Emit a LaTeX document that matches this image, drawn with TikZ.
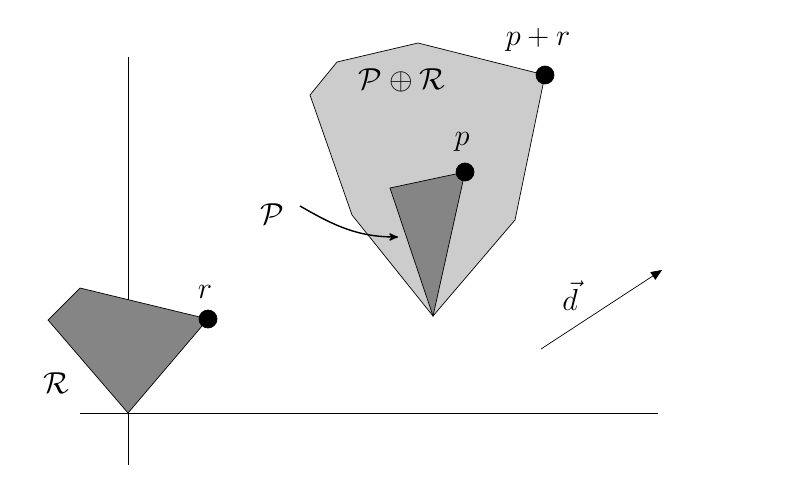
\documentclass[tikz,border=0pt]{standalone}
\usepackage{amsmath, amssymb}
\usetikzlibrary{arrows,calc,positioning}
\begin{document}
\begin{tikzpicture}[
  x=0.02cm, y=-0.02cm,
  > = latex,
  dot/.style = {draw,fill,circle,inner sep=0pt,minimum size=0.36cm},
  lbl/.style = {font=\LARGE}
  ]
	\useasboundingbox (0,0) rectangle (800,500);
	\draw (128,57) -- (128,465);
	\draw (80,413) -- (658,413);

	\coordinate (o) at (128,413);
	\coordinate (r) at (208,319);
	\coordinate (q) at (433,316);
	\coordinate (p) at (465,172);
	\coordinate (pr) at (545,75);

	\filldraw[fill=black!48] (o) -- (48,320) -- (80,288) -- (r) -- cycle;
	\filldraw[fill=black!20] (q) -- (352,215) -- (310,95) -- (337,62) -- (418,43) -- (pr) -- (515,220) -- cycle;
	\filldraw[fill=black!48] (q) -- (390,188) -- (p) -- cycle;

	\node[dot] at (r) {};
	\node[dot] at (p) {};
	\node[dot] at (pr) {};

	\node[lbl] (rlab) at (205,292) {$r$};
	\node[lbl] (plab) at (462,142) {$p$};
	\node[lbl] (prlab) at (538,40) {$p+r$};
	\node[lbl] (Rlab) at (56,383) {$\mathcal{R}$};
	\node[lbl] (PRlab) at (402,80) {$\mathcal{P}\oplus\mathcal{R}$};
	\node[lbl] (Plab) at (272,214) {$\mathcal{P}$};

	\coordinate (pa) at (300,206);
	\coordinate (pb) at (398,237);
	\draw[->, >=stealth', thick] (pa) to[out=-30, in=180] (pb);

	\coordinate (da) at (541,349);
	\coordinate (db) at (662,270);
	\draw[->, >={triangle 45[scale=1.5]}] (da) -- (db);
	\node[lbl] (dlab) at (570,296) {$\vec{d}$};
\end{tikzpicture}
\end{document}
